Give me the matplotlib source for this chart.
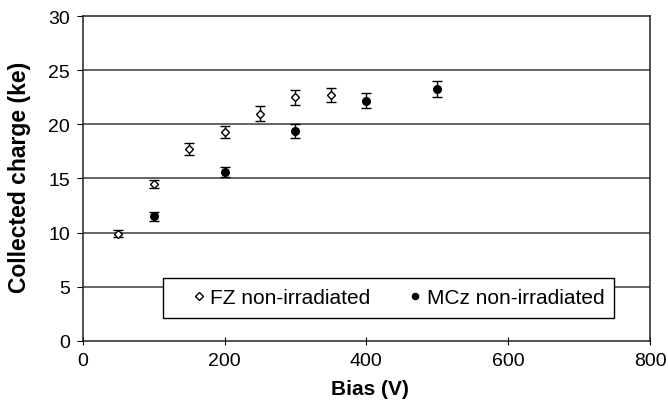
import matplotlib
matplotlib.use("Agg")
import matplotlib.pyplot as plt
from matplotlib.patches import Rectangle

plt.rcParams["font.family"] = ["Liberation Sans", "DejaVu Sans"]

# FZ non-irradiated
fz_bias = [50, 100, 150, 200, 250, 300, 350]
fz_charge = [9.9, 14.5, 17.7, 19.3, 21.0, 22.5, 22.7]
fz_err = [0.35, 0.35, 0.55, 0.55, 0.68, 0.66, 0.66]

# MCz non-irradiated
mcz_bias = [100, 200, 300, 400, 500]
mcz_charge = [11.5, 15.6, 19.4, 22.2, 23.3]
mcz_err = [0.42, 0.5, 0.65, 0.7, 0.75]

fig = plt.figure(figsize=(6.68, 4.06), dpi=100)
ax = fig.add_axes([0.1238, 0.1584, 0.8493, 0.7990])

for y in [5, 10, 15, 20, 25]:
    ax.axhline(y, color="#3a3a3a", lw=1.1, zorder=1)

ax.errorbar(fz_bias, fz_charge, yerr=fz_err, fmt="D", ms=4.5, mfc="white",
            mec="black", mew=1.0, ecolor="black", elinewidth=1.0, capsize=3.5,
            capthick=1.0, label="FZ non-irradiated", zorder=3)
ax.errorbar(mcz_bias, mcz_charge, yerr=mcz_err, fmt="o", ms=5.5, mfc="black",
            mec="black", ecolor="black", elinewidth=1.0, capsize=3.5,
            capthick=1.0, label="MCz non-irradiated", zorder=3)

ax.set_xlim(0, 800)
ax.set_ylim(0, 30)
ax.set_xticks([0, 200, 400, 600, 800])
ax.set_yticks([0, 5, 10, 15, 20, 25, 30])
ax.tick_params(axis="y", direction="out", length=4.5, labelsize=14, pad=4.5)
ax.tick_params(axis="x", direction="inout", length=6, labelsize=14, pad=5)
for s in ax.spines.values():
    s.set_color("#222222")
    s.set_linewidth(1.1)

ax.set_xlabel("Bias (V)", fontsize=15, fontweight="bold")
ax.xaxis.label.set_va("center")
ax.xaxis.set_label_coords(0.507, -0.148)
ax.set_ylabel("Collected charge (ke)", fontsize=16.5, fontweight="bold")
ax.yaxis.label.set_va("center")
ax.yaxis.set_label_coords(-0.112, 0.505)

# legend frame drawn separately so the entries can sit where they do in the original
ax.add_patch(Rectangle((0.1415, 0.07), 0.795, 0.123, transform=ax.transAxes,
                       facecolor="white", edgecolor="black", lw=1.0, zorder=4))

handles, labels = ax.get_legend_handles_labels()
handles = [h[0] for h in handles]
leg = ax.legend(handles, labels, loc="center left", bbox_to_anchor=(0.196, 0.1316),
                ncol=2, fontsize=15, frameon=False, borderpad=0, borderaxespad=0,
                handlelength=0.5, handletextpad=0.29, columnspacing=1.9,
                markerscale=0.8)
leg.set_zorder(5)

fig.savefig("out.png", dpi=100)
